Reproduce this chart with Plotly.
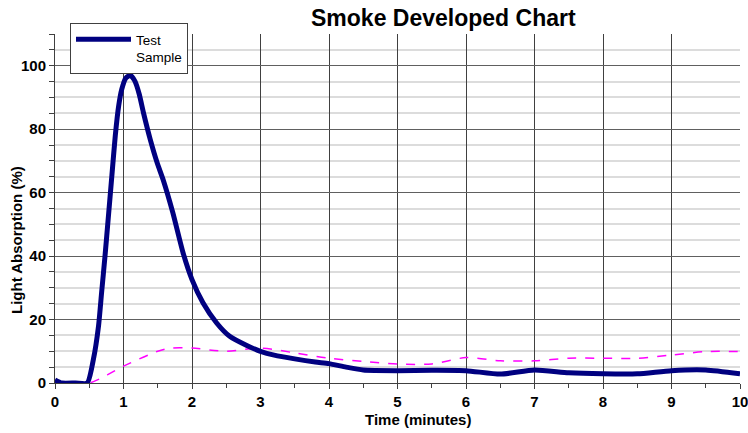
import plotly.graph_objects as go

# Test Sample (thick navy)
sample_time = [0, 0.1, 0.3, 0.47, 0.56, 0.635, 0.68, 0.73, 0.78, 0.83, 0.88, 0.93, 0.975, 1.03, 1.1,
               1.17, 1.23, 1.29, 1.39, 1.49, 1.58, 1.72, 1.87, 2.0, 2.16, 2.36, 2.55, 2.8, 3.0,
               3.2, 3.5, 3.8, 4.0, 4.25, 4.5, 5, 5.5, 6, 6.5, 7, 7.5, 8, 8.5, 9, 9.5, 10]
sample_abs = [1, 0, 0, 0, 7.4, 17.9, 28.4, 40, 52.6, 65.3, 77.9, 87.4, 92.6, 96, 97,
              95, 91, 85.3, 76.8, 69.5, 64, 53.7, 41, 32.6, 25.3, 18.9, 14.7, 11.8, 10,
              8.8, 7.6, 6.6, 6.1, 5, 4.1, 3.9, 4, 3.9, 2.8, 4.1, 3.2, 2.9, 2.9, 3.9, 4.1, 2.9]

# Reference curve (magenta dashed)
ref_time = [0, 0.5, 1, 1.5, 1.7, 2, 2.5, 3, 3.5, 4, 4.5, 5, 5.5, 6, 6.5, 7, 7.5, 8, 8.5, 9, 9.5, 10]
ref_abs = [0, 0, 5.3, 10, 11, 11, 10, 11, 9.5, 7.8, 6.8, 6, 6, 8, 7, 7, 7.8, 7.8, 7.8, 8.8, 9.9, 9.9]

font_family = "Liberation Sans, Arial, sans-serif"

W, H = 748, 433
L, R, T, B = 55, 8, 34, 50
pw, ph = W - L - R, H - T - B


def px_to_paper(wx, wy):
    return (wx - L) / pw, (H - B - wy) / ph


fig = go.Figure()
fig.add_trace(go.Scatter(x=ref_time, y=ref_abs, mode="lines", showlegend=False,
                         line=dict(color="#ff00ff", width=1.5, dash="dash", shape="spline", smoothing=0.8)))
fig.add_trace(go.Scatter(x=sample_time, y=sample_abs, mode="lines", name="Test<br>Sample",
                         line=dict(color="#000080", width=5, shape="spline", smoothing=0.6)))

tx, ty = px_to_paper(443, 18)
xx, xy = px_to_paper(418, 419)
yx, yy = px_to_paper(17, 240)
lx, ly = px_to_paper(70, 74)

fig.update_layout(
    width=W, height=H,
    margin=dict(l=L, r=R, t=T, b=B, autoexpand=False),
    paper_bgcolor="white", plot_bgcolor="white",
    font=dict(family=font_family, size=14, color="black"),
    showlegend=True,
    legend=dict(x=lx, y=ly, xanchor="left", yanchor="bottom", valign="top",
                bgcolor="white", bordercolor="#404040", borderwidth=1,
                font=dict(family=font_family, size=13.5, color="black"),
                itemwidth=55, tracegroupgap=0),
    annotations=[
        dict(text="<b>Smoke Developed Chart</b>", x=tx, y=ty, xref="paper", yref="paper",
             xanchor="center", yanchor="middle",
             showarrow=False, font=dict(size=23, family=font_family)),
        dict(text="<b>Time (minutes)</b>", x=xx, y=xy, xref="paper", yref="paper",
             xanchor="center", yanchor="middle", showarrow=False,
             font=dict(size=15, family=font_family)),
        dict(text="<b>Light Absorption (%)</b>", x=yx, y=yy, xref="paper", yref="paper",
             xanchor="center", yanchor="middle",
             showarrow=False, textangle=-90, font=dict(size=15, family=font_family)),
    ],
)

fig.update_xaxes(range=[0, 10], dtick=1, showgrid=True, gridcolor="#404040", gridwidth=1,
                 showline=True, linecolor="#404040", linewidth=1, zeroline=False,
                 ticks="outside", ticklen=5, tickcolor="#404040", automargin=False,
                 ticklabeloverflow="allow",
                 tickfont=dict(size=15, family=font_family, weight="bold"),
                 minor=dict(dtick=0.5, ticks="outside", ticklen=4, tickcolor="#404040", showgrid=False))
fig.update_yaxes(range=[0, 110], dtick=20, showgrid=True, gridcolor="#606060", gridwidth=1,
                 showline=True, linecolor="#404040", linewidth=1, zeroline=False,
                 ticks="outside", ticklen=5, tickcolor="#404040", automargin=False,
                 ticklabeloverflow="allow",
                 tickfont=dict(size=15, family=font_family, weight="bold"),
                 minor=dict(dtick=5, ticks="outside", ticklen=5, tickcolor="#404040",
                            showgrid=True, gridcolor="#dcdcdc", gridwidth=1.5))

fig.write_html("out.html", config={"displayModeBar": False},
               post_script="document.body.style.margin='0px';")
